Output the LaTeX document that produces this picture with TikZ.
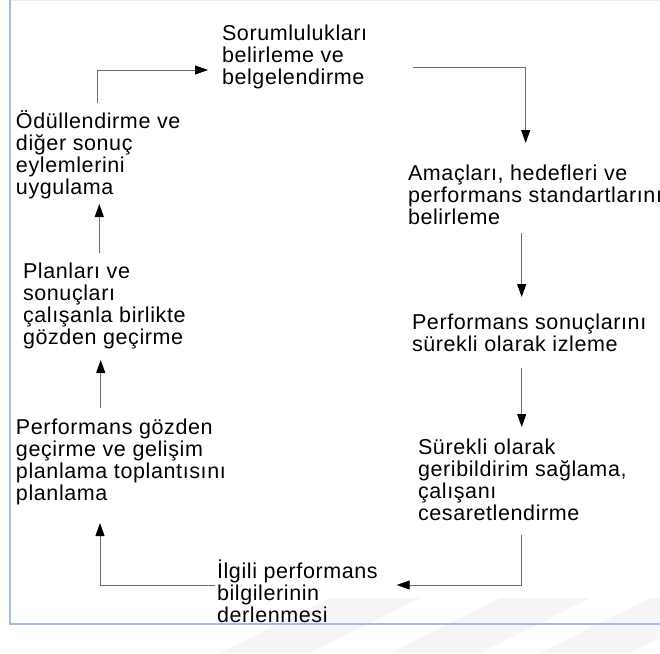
\documentclass[tikz,border=0pt]{standalone}
\usepackage{fontspec}
\setmainfont{Liberation Sans}[LetterSpace=2.8]
\usetikzlibrary{arrows.meta,calc}

\definecolor{framecol}{RGB}{164,189,224}
\definecolor{topcol}{RGB}{232,236,243}
\definecolor{linkcol}{RGB}{110,110,110}
\definecolor{markcol}{RGB}{245,245,245}

% one text block: lines separated by \\, anchored at the first baseline
\newcommand{\stepblock}[1]{\begin{tabular}[t]{@{}l@{}}#1\end{tabular}}

\tikzset{
  steptext/.style={anchor=base west, inner sep=0pt, outer sep=0pt,
    font=\fontsize{21.5}{21.5}\selectfont, text=black},
  link/.style={draw=linkcol, line width=0.9pt,
    -{Triangle[length=13pt,width=9pt,color=black]}},
  band/.style={fill=markcol, draw=none}
}

\begin{document}
\begin{tikzpicture}[x=1pt,y=-1pt]
\useasboundingbox (0,0) rectangle (660,653);

% faint diagonal bands along the lower edge
\fill[band] (330,598) -- (420,598) -- (310,653) -- (220,653) -- cycle;
\fill[band] (500,598) -- (590,598) -- (480,653) -- (390,653) -- cycle;
\fill[band] (650,598) -- (740,598) -- (630,653) -- (540,653) -- cycle;

% frame
\draw[topcol, line width=1pt] (10,0.5) -- (660,0.5);
\draw[framecol, line width=1.5pt] (10,0) -- (10,624) -- (660,624);

% steps of the cycle
\node[steptext] (n1) at (222,40) {\stepblock{Sorumlulukları\\belirleme ve\\belgelendirme}};
\node[steptext] (n2) at (408,180) {\stepblock{Amaçları, hedefleri ve\\performans standartlarını\\belirleme}};
\node[steptext] (n3) at (412,329) {\stepblock{Performans sonuçlarını\\sürekli olarak izleme}};
\node[steptext] (n4) at (418,454) {\stepblock{Sürekli olarak\\geribildirim sağlama,\\çalışanı\\cesaretlendirme}};
\node[steptext] (n5) at (217,578) {\stepblock{İlgili performans\\bilgilerinin\\derlenmesi}};
\node[steptext] (n6) at (16,434) {\stepblock{Performans gözden\\geçirme ve gelişim\\planlama toplantısını\\planlama}};
\node[steptext] (n7) at (23,278) {\stepblock{Planları ve\\sonuçları\\çalışanla birlikte\\gözden geçirme}};
\node[steptext] (n8) at (16,128) {\stepblock{Ödüllendirme ve\\diğer sonuç\\eylemlerini\\uygulama}};

% connectors
\draw[link] ($(n8.base west)+(81,-25)$) |- ($(n1.base west)+(-14,30)$);
\draw[link] ($(n1.base west)+(191,27)$) -| ($(n2.base west)+(117.7,-37)$);
\draw[link] ($(n2.base west)+(113.7,53)$) -- ($(n3.base west)+(109.7,-32)$);
\draw[link] ($(n3.base west)+(109.7,39)$) -- ($(n4.base west)+(103.7,-27)$);
\draw[link] ($(n4.base west)+(103.7,81)$) |- ($(n5.base west)+(179.7,7)$);
\draw[link] ($(n5.base west)+(-2,7.5)$) -| ($(n6.base west)+(84,89)$);
\draw[link] ($(n6.base west)+(84.7,-26)$) -- ($(n7.base west)+(77.7,82)$);
\draw[link] ($(n7.base west)+(76.3,-25)$) -- ($(n8.base west)+(83.3,76)$);
\end{tikzpicture}
\end{document}
